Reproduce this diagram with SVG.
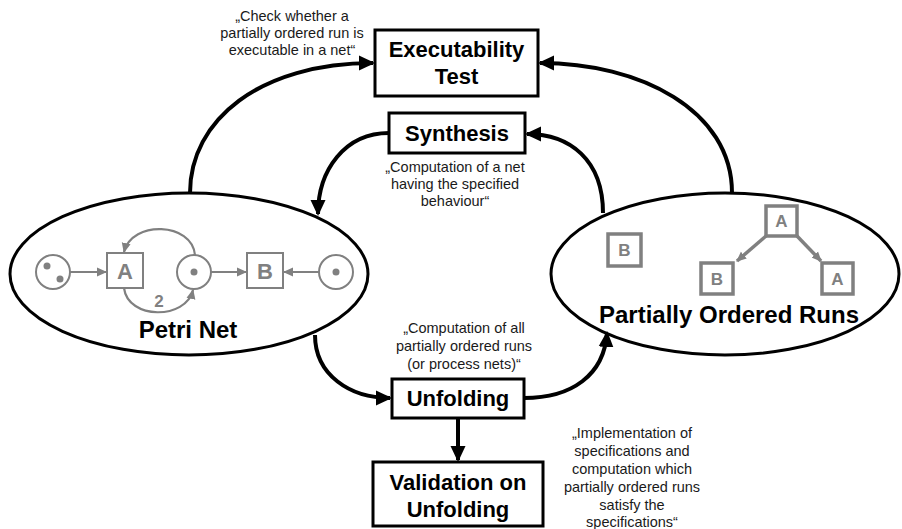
<svg xmlns="http://www.w3.org/2000/svg" width="902" height="529" viewBox="0 0 902 529">
<style>
.box{fill:#fff;stroke:#000;stroke-width:3}
.ell{fill:#fff;stroke:#000;stroke-width:3}
.conn{fill:none;stroke:#000;stroke-width:4}
.bt{font-family:"Liberation Sans",Arial,sans-serif;font-weight:bold;font-size:22px;fill:#000;text-anchor:middle}
.big{font-family:"Liberation Sans",Arial,sans-serif;font-weight:bold;font-size:24px;fill:#000;text-anchor:middle}
.ann{font-family:"Liberation Sans",Arial,sans-serif;font-size:14.5px;fill:#1a1a1a;text-anchor:middle}
.gp{fill:#fff;stroke:#808080;stroke-width:2}
.gl{fill:none;stroke:#808080;stroke-width:2.2}
.gd{fill:#808080}
.gt{font-family:"Liberation Sans",Arial,sans-serif;font-weight:bold;font-size:22px;fill:#808080;text-anchor:middle}
.gb{fill:#fff;stroke:#808080;stroke-width:3.5}
.gt2{font-family:"Liberation Sans",Arial,sans-serif;font-weight:bold;font-size:17px;fill:#808080;text-anchor:middle}
</style>
<defs>
<marker id="ah" markerUnits="userSpaceOnUse" markerWidth="17" markerHeight="17" refX="14" refY="8.5" orient="auto">
<path d="M0,1 L16,8.5 L0,16 z" fill="#000"/>
</marker>
<marker id="gah" markerUnits="userSpaceOnUse" markerWidth="11" markerHeight="10" refX="9" refY="5" orient="auto">
<path d="M0,0.5 L10,5 L0,9.5 z" fill="#808080"/>
</marker>
</defs>

<g id="petri-net">
<ellipse class="ell" cx="189" cy="274" rx="179" ry="81"/>
<circle class="gp" cx="53" cy="272" r="17"/>
<circle class="gd" cx="47" cy="266" r="3.5"/>
<circle class="gd" cx="60" cy="279" r="3.5"/>
<rect class="gp" x="107" y="253" width="36" height="35"/>
<text class="gt" x="125" y="279">A</text>
<circle class="gp" cx="194" cy="272" r="17"/>
<circle class="gd" cx="194" cy="272" r="3.5"/>
<rect class="gp" x="247" y="253" width="36" height="35"/>
<text class="gt" x="265" y="279">B</text>
<circle class="gp" cx="336" cy="272" r="17"/>
<circle class="gd" cx="336" cy="272" r="3.5"/>
<line class="gl" x1="70" y1="272" x2="106" y2="272" marker-end="url(#gah)"/>
<line class="gl" x1="211" y1="272" x2="246" y2="272" marker-end="url(#gah)"/>
<line class="gl" x1="319" y1="272" x2="284" y2="272" marker-end="url(#gah)"/>
<path class="gl" d="M195,255 C192,222 132,220 124,252" marker-end="url(#gah)"/>
<path class="gl" d="M124,288 C128,320 186,320 193,290" marker-end="url(#gah)"/>
<text x="159" y="307" font-family="Liberation Sans, Arial, sans-serif" font-weight="bold" font-size="17" fill="#808080" text-anchor="middle">2</text>
<text class="big" x="188" y="338">Petri Net</text>
</g>

<g id="partially-ordered-runs">
<ellipse class="ell" cx="725" cy="274" rx="174" ry="81"/>
<rect class="gb" x="608" y="234" width="33" height="32"/>
<text class="gt2" x="624.5" y="256">B</text>
<rect class="gb" x="766" y="206" width="31" height="30"/>
<text class="gt2" x="781.5" y="227">A</text>
<rect class="gb" x="701" y="263" width="32" height="31"/>
<text class="gt2" x="717" y="285">B</text>
<rect class="gb" x="822" y="263" width="31" height="31"/>
<text class="gt2" x="837.5" y="285">A</text>
<line x1="766" y1="236" x2="737" y2="261" stroke="#808080" stroke-width="3.5" marker-end="url(#gah)"/>
<line x1="797" y1="236" x2="821" y2="261" stroke="#808080" stroke-width="3.5" marker-end="url(#gah)"/>
<text class="big" x="729" y="323">Partially Ordered Runs</text>
</g>

<g id="executability-test">
<rect class="box" x="375" y="30" width="163" height="66"/>
<text class="bt" x="456.5" y="57">Executability</text>
<text class="bt" x="456.5" y="84">Test</text>
</g>

<g id="synthesis">
<rect class="box" x="389" y="113" width="136" height="40"/>
<text class="bt" x="457" y="141">Synthesis</text>
</g>

<g id="unfolding">
<rect class="box" x="392" y="379" width="132" height="39"/>
<text class="bt" x="458" y="406">Unfolding</text>
</g>

<g id="validation">
<rect class="box" x="373" y="462" width="170" height="64"/>
<text class="bt" x="458" y="490">Validation on</text>
<text class="bt" x="458" y="517">Unfolding</text>
</g>

<g id="annotations">
<text class="ann" font-size="13.5"><tspan x="292" y="21">„Check whether a</tspan><tspan x="292" y="38">partially ordered run is</tspan><tspan x="292" y="55">executable in a net“</tspan></text>
<text class="ann" font-size="15"><tspan x="455" y="172">„Computation of a net</tspan><tspan x="455" y="189">having the specified</tspan><tspan x="455" y="206">behaviour“</tspan></text>
<text class="ann"><tspan x="464" y="333">„Computation of all</tspan><tspan x="464" y="351">partially ordered runs</tspan><tspan x="464" y="369">(or process nets)“</tspan></text>
<text class="ann"><tspan x="632" y="438">„Implementation of</tspan><tspan x="632" y="456">specifications and</tspan><tspan x="632" y="474">computation which</tspan><tspan x="632" y="492">partially ordered runs</tspan><tspan x="632" y="510">satisfy the</tspan><tspan x="632" y="527">specifications“</tspan></text>
</g>

<g id="connectors">
<path class="conn" d="M190,193 C190,120 260,63 373,63" marker-end="url(#ah)"/>
<path class="conn" d="M732,193 C732,110 640,63 540,63" marker-end="url(#ah)"/>
<path class="conn" d="M389,133 C345,133 318,170 318,214" marker-end="url(#ah)"/>
<path class="conn" d="M603,213 C603,160 570,134 527,134" marker-end="url(#ah)"/>
<path class="conn" d="M315,335 C315,375 350,398 390,398" marker-end="url(#ah)"/>
<path class="conn" d="M524,398 C572,398 604,375 607,333" marker-end="url(#ah)"/>
<line class="conn" x1="458" y1="418" x2="458" y2="460" marker-end="url(#ah)"/>
</g>
</svg>
